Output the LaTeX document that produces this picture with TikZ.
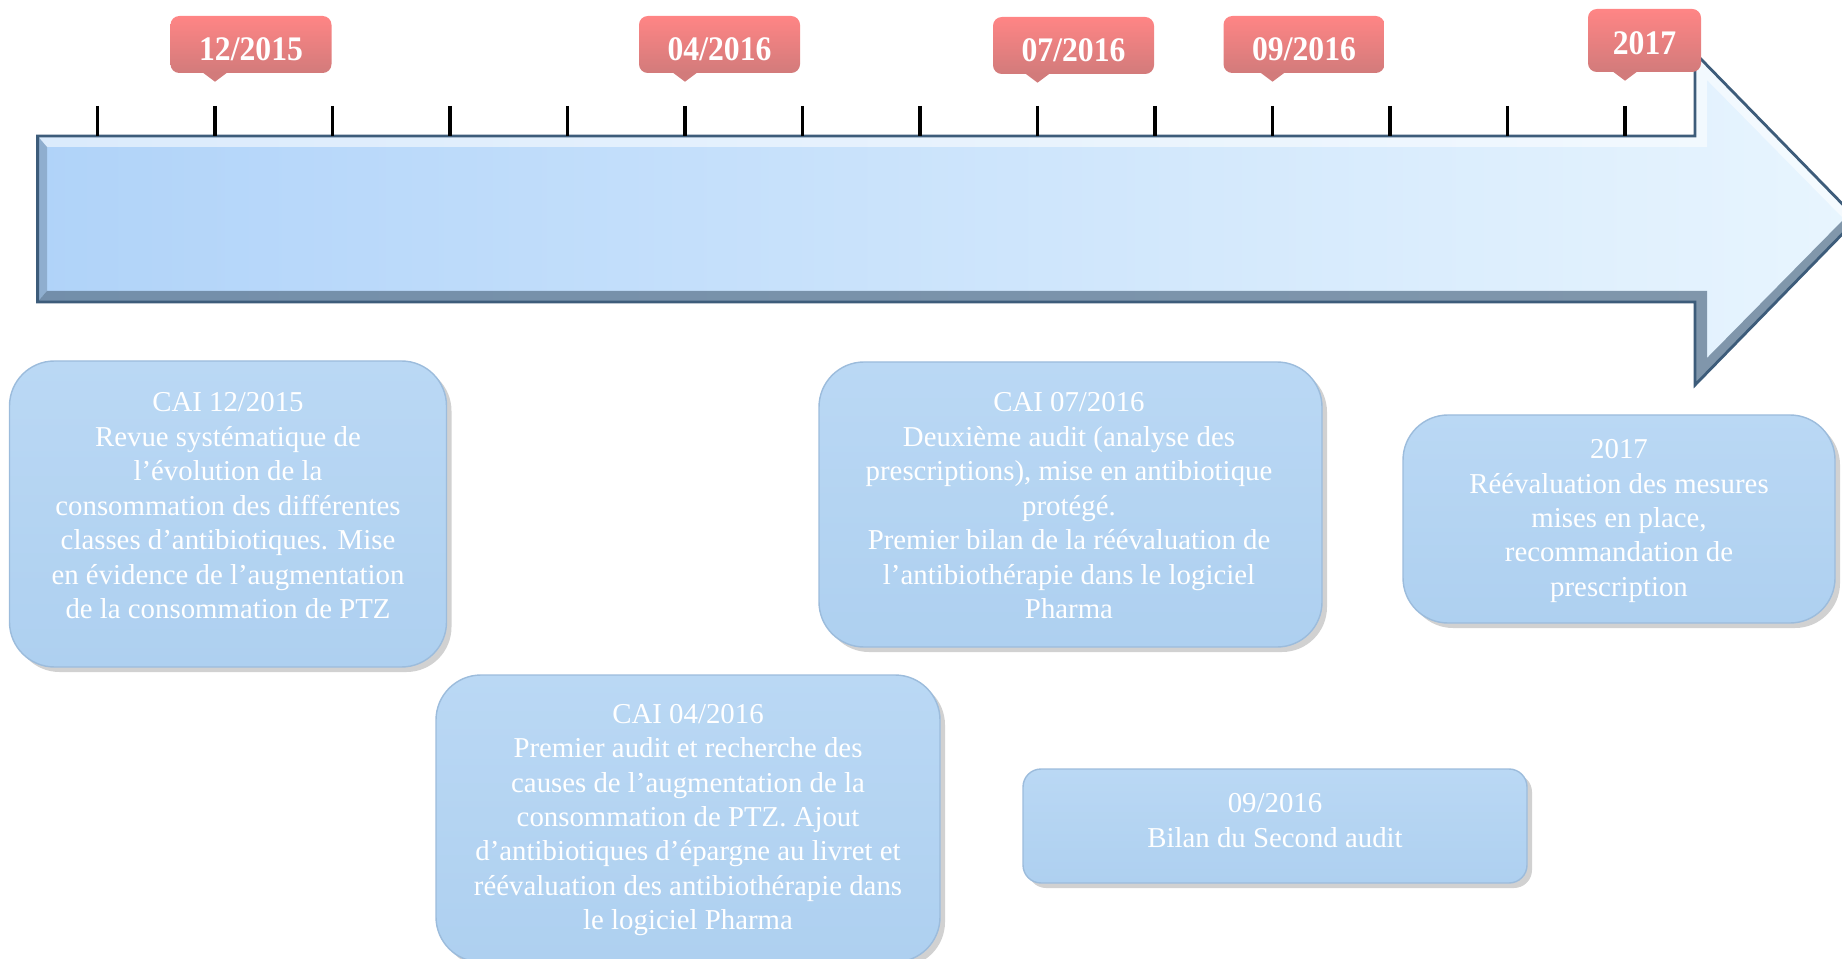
\documentclass[tikz,border=0pt]{standalone}
\usepackage{fontspec}
\setmainfont{Liberation Serif}
\newfontfamily\datefont[FakeStretch=0.92]{Liberation Serif}
\usetikzlibrary{shadows,calc}
\definecolor{cArrowL}{HTML}{B0D3F9}
\definecolor{cArrowR}{HTML}{E8F5FE}
\definecolor{cArrowEdge}{HTML}{3D5C7A}
\definecolor{cArrowDark}{HTML}{5F7890}
\definecolor{cDate}{HTML}{FF8585}
\definecolor{cDateDark}{HTML}{D27B7B}
\definecolor{cBox}{HTML}{AED0F0}
\definecolor{cBoxTop}{HTML}{BAD8F4}
\definecolor{cBoxEdge}{HTML}{9CBCDC}

\begin{document}
\begin{tikzpicture}[
  tick/.style={line width=0.9pt, black},
  datebox/.style={
    rounded corners=2.5pt, top color=cDate, bottom color=cDateDark,
    text=white, font=\datefont\fontsize{9.8}{11}\selectfont\bfseries,
    minimum width=1.61cm, minimum height=0.57cm, inner sep=0pt,
    text height=3.2mm, text depth=0pt
  },
  datetip/.style={fill=cDateDark},
  evt/.style={
    rounded corners=0.45cm, top color=cBoxTop, bottom color=cBox,
    draw=cBoxEdge, line width=0.4pt, inner sep=0pt,
    drop shadow={shadow xshift=0.5mm, shadow yshift=-0.5mm,
      fill=black, opacity=0.18}
  },
  evtext/.style={text=white, align=center, inner sep=0pt,
    font=\fontsize{8.2}{9.8}\selectfont},
]
\useasboundingbox (0,0) rectangle (18.42,-9.59);
% timeline arrow
\fill[left color=cArrowL, right color=cArrowR]
  (0.376,-1.36) -- (16.95,-1.36) -- (16.95,-0.53) -- (18.57,-2.19)
  -- (16.95,-3.85) -- (16.95,-3.02) -- (0.376,-3.02) -- cycle;
\fill[white, opacity=0.55]
  (0.376,-1.36) -- (16.95,-1.36) -- (16.95,-0.53) -- (18.57,-2.19)
  -- (18.44,-2.19) -- (17.07,-0.80) -- (17.07,-1.47) -- (0.47,-1.47) -- cycle;
\fill[cArrowDark, opacity=0.75]
  (0.376,-3.02) -- (16.95,-3.02) -- (16.95,-3.85) -- (18.57,-2.19)
  -- (18.44,-2.19) -- (17.07,-3.58) -- (17.07,-2.91) -- (0.47,-2.91) -- cycle;
\fill[cArrowDark, opacity=0.4]
  (0.376,-1.36) -- (0.47,-1.47) -- (0.47,-2.91) -- (0.376,-3.02) -- cycle;
\draw[cArrowEdge, line width=0.8pt]
  (0.376,-1.36) -- (16.95,-1.36) -- (16.95,-0.53) -- (18.57,-2.19)
  -- (16.95,-3.85) -- (16.95,-3.02) -- (0.376,-3.02) -- cycle;
% ticks
\foreach \i in {0,...,13}{
  \coordinate (t\i) at ({0.975+1.175*\i},-1.06);
  \draw[tick] (t\i) -- ++(0,-0.30);
}
% dates
\node[datebox] (d1) at (2.51,-0.445) {12/2015};
\node[datebox] (d2) at (7.195,-0.445) {04/2016};
\node[datebox] (d3) at (10.735,-0.455) {07/2016};
\node[datebox] (d4) at (13.04,-0.445) {09/2016};
\node[datebox, minimum width=1.13cm, minimum height=0.63cm, text height=2.8mm] (d5) at (16.445,-0.405) {2017};
\fill[datetip] (d1.south -| t1) ++(-0.12,0.01) -- ++(0.12,-0.09) -- ++(0.12,0.09) -- cycle;
\fill[datetip] (d2.south -| t5) ++(-0.12,0.01) -- ++(0.12,-0.09) -- ++(0.12,0.09) -- cycle;
\fill[datetip] (d3.south -| t8) ++(-0.12,0.01) -- ++(0.12,-0.09) -- ++(0.12,0.09) -- cycle;
\fill[datetip] (d4.south -| t10) ++(-0.12,0.01) -- ++(0.12,-0.09) -- ++(0.12,0.09) -- cycle;
\fill[datetip] (d5.south -| t13) ++(-0.12,0.01) -- ++(0.12,-0.09) -- ++(0.12,0.09) -- cycle;
% event boxes
\node[evt, minimum width=4.37cm, minimum height=3.06cm] (c1) at (2.28,-5.14) {};
\node[evt, minimum width=5.04cm, minimum height=2.87cm] (c2) at (6.88,-8.185) {};
\node[evt, minimum width=5.03cm, minimum height=2.85cm] (c3) at (10.705,-5.045) {};
\node[evt, rounded corners=0.18cm, minimum width=5.04cm, minimum height=1.14cm] (c4) at (12.75,-8.26) {};
\node[evt, minimum width=4.32cm, minimum height=2.08cm] (c5) at (16.19,-5.19) {};
% event texts
\node[evtext] (c1t) at (2.28,-5.057)
  {CAI 12/2015\\Revue systématique de\\l’évolution de la\\consommation des différentes\\classes d’antibiotiques. Mise\\en évidence de l’augmentation\\de la consommation de PTZ};
\node[evtext] (c2t) at (6.88,-8.20)
  {CAI 04/2016\\Premier audit et recherche des\\causes de l’augmentation de la\\consommation de PTZ. Ajout\\d’antibiotiques d’épargne au livret et\\réévaluation des antibiothérapie dans\\le logiciel Pharma};
\node[evtext] (c3t) at (10.69,-5.057)
  {CAI 07/2016\\Deuxième audit (analyse des\\prescriptions), mise en antibiotique\\protégé.\\Premier bilan de la réévaluation de\\l’antibiothérapie dans le logiciel\\Pharma};
\node[evtext] (c4t) at (12.75,-8.205)
  {09/2016\\Bilan du Second audit};
\node[evtext] (c5t) at (16.19,-5.21)
  {2017\\Réévaluation des mesures\\mises en place,\\recommandation de\\prescription};
\end{tikzpicture}
\end{document}
